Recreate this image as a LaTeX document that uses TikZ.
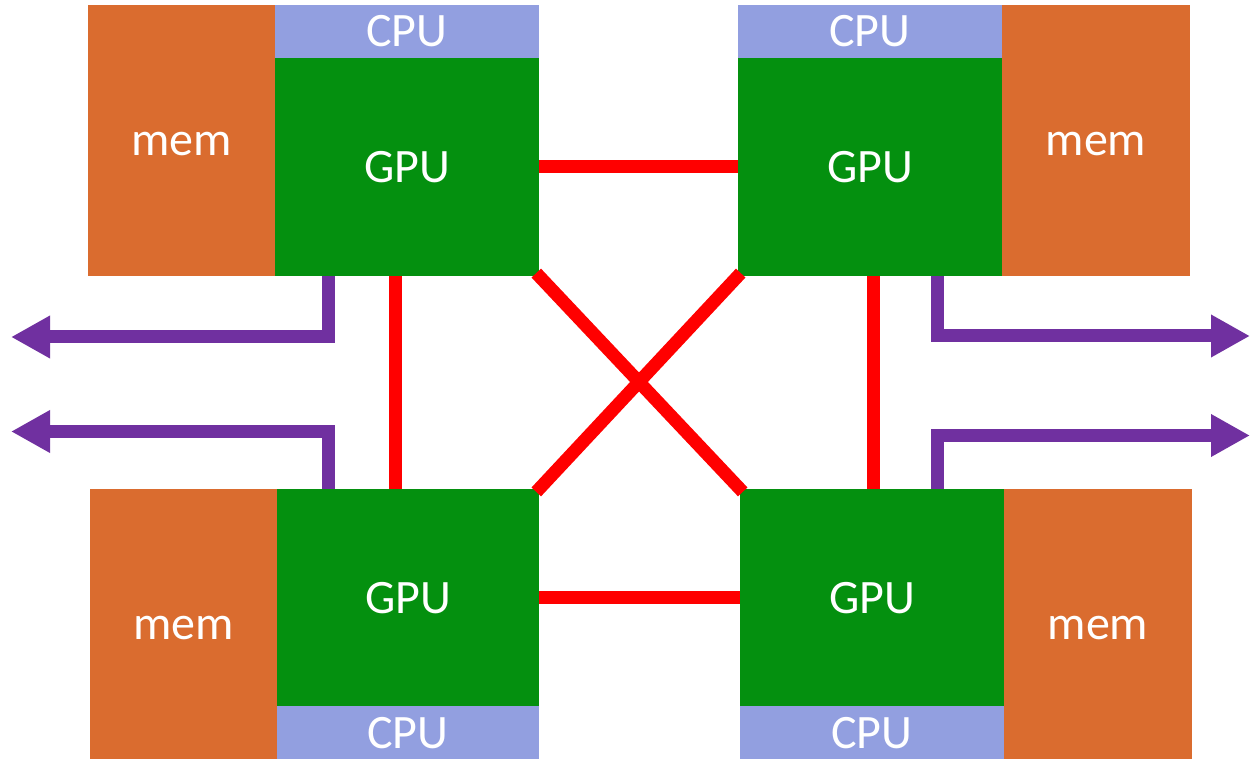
\documentclass[tikz,border=0pt]{standalone}
\usepackage{fontspec}
\setmainfont{Carlito}
\usetikzlibrary{arrows.meta}
\definecolor{memc}{HTML}{DA6C2F}
\definecolor{gpuc}{HTML}{04900F}
\definecolor{cpuc}{HTML}{929FE0}
\definecolor{linkc}{HTML}{FF0000}
\definecolor{outc}{HTML}{7030A0}
\tikzset{
  blk/.style={inner sep=0pt, outer sep=0pt, text=white, text height=31pt, text depth=0pt, font=\fontsize{48}{52}\selectfont},
  membox/.style={blk, fill=memc, minimum width=#1pt},
  gpubox/.style={blk, fill=gpuc, minimum width=#1pt},
  cpubox/.style={blk, fill=cpuc, minimum width=#1pt, minimum height=53pt},
  link/.style={draw=linkc, line width=13pt},
  diag/.style={link, shorten <=-4pt, shorten >=-4pt},
  outlink/.style={draw=outc, line width=13pt, -{Triangle[length=39pt,width=40pt]}}
}
\begin{document}
\begin{tikzpicture}[x=1pt,y=-1pt]
\useasboundingbox (0,0) rectangle (1251,759);
% top-left
\node[membox=187, minimum height=271pt] (mtl) at (181.5,140.5) {mem};
\node[cpubox=264] (ctl) at (407,31.5) {CPU};
\node[gpubox=264, minimum height=218pt] (gtl) at (407,167) {GPU};
% top-right
\node[cpubox=264] (ctr) at (870,31.5) {CPU};
\node[gpubox=264, minimum height=218pt] (gtr) at (870,167) {GPU};
\node[membox=188, minimum height=271pt] (mtr) at (1096,140.5) {mem};
% bottom-left
\node[membox=187, minimum height=270pt] (mbl) at (183.5,624) {mem};
\node[gpubox=262, minimum height=217pt] (gbl) at (408,597.5) {GPU};
\node[cpubox=262] (cbl) at (408,732.5) {CPU};
% bottom-right
\node[gpubox=264, minimum height=217pt] (gbr) at (872,597.5) {GPU};
\node[cpubox=264] (cbr) at (872,732.5) {CPU};
\node[membox=188, minimum height=270pt] (mbr) at (1098,624) {mem};
% red links
\draw[link] (gtl.east) -- (gtr.west);
\draw[link] (gbl.east) -- (gbr.west);
\draw[link] ([xshift=-12pt]gtl.south) -- ([xshift=-13pt]gbl.north);
\draw[link] ([xshift=3pt]gtr.south) -- ([xshift=1pt]gbr.north);
\draw[diag] (gtl.south east) -- (gbr.north west);
\draw[diag] (gtr.south west) -- (gbl.north east);
% purple outputs
\coordinate (otl) at (11,337);
\coordinate (obl) at (11,431.5);
\coordinate (otr) at (1250,336);
\coordinate (obr) at (1250,435.5);
\draw[outlink] ([xshift=-79pt]gtl.south) |- (otl);
\draw[outlink] ([xshift=-80pt]gbl.north) |- (obl);
\draw[outlink] ([xshift=67pt]gtr.south) |- (otr);
\draw[outlink] ([xshift=65pt]gbr.north) |- (obr);
\end{tikzpicture}
\end{document}
